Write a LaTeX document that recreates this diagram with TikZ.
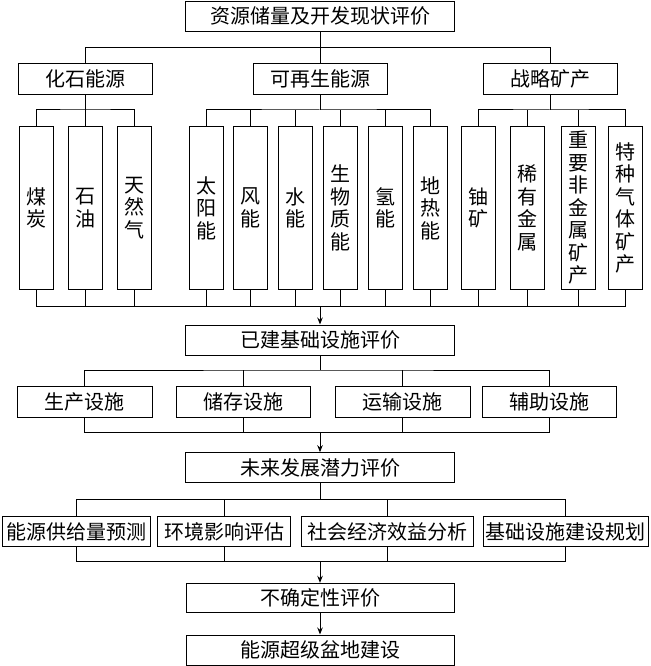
\documentclass[tikz,border=0pt]{standalone}
\usepackage{fontspec}
\newfontfamily\cjk{Noto Sans CJK SC}
\usetikzlibrary{arrows.meta}
\begin{document}
\begin{tikzpicture}[x=1pt,y=-1pt,line width=1pt,
  every node/.style={font=\cjk\fontsize{20}{22.5}\selectfont,inner sep=0pt},
  box/.style={draw,minimum height=30pt,align=center},
  tall/.style={draw,minimum width=34pt,minimum height=162.6pt,align=center},
  arr/.style={-{Stealth[length=7pt,width=5.5pt]}}]
\useasboundingbox[fill=white] (0,0) rectangle (650,666);
% level 1
\node[box,minimum width=269pt] (top) at (320,16.2) {资源储量及开发现状评价};
\node[box,minimum width=134pt,minimum height=31pt] (f) at (85.4,79) {化石能源};
\node[box,minimum width=134pt,minimum height=31pt] (r) at (320,79) {可再生能源};
\node[box,minimum width=134pt,minimum height=31pt] (s) at (550,79) {战略矿产};
% tall boxes
\node[tall] (coal) at (36.3,208) {煤\\炭};
\node[tall] (oil) at (85.3,208) {石\\油};
\node[tall] (ngas) at (134.2,208) {天\\然\\气};
\node[tall] (sun) at (206,208) {太\\阳\\能};
\node[tall] (wind) at (250,208) {风\\能};
\node[tall] (hydro) at (295,208) {水\\能};
\node[tall] (bio) at (340.7,208) {生\\物\\质\\能};
\node[tall] (hyd) at (385.7,208) {氢\\能};
\node[tall] (geo) at (430.7,208) {地\\热\\能};
\node[tall] (ura) at (478.3,208) {铀\\矿};
\node[tall] (rare) at (527.3,208) {稀\\有\\金\\属};
\node[tall] (nonmet) at (578.3,208) {重\\要\\非\\金\\属\\矿\\产};
\node[tall] (sgas) at (625,208) {特\\种\\气\\体\\矿\\产};
% level 2
\node[box,minimum width=269pt] (ib) at (320,340) {已建基础设施评价};
\node[box,minimum width=134.5pt,minimum height=30.6pt] (prod) at (84.75,402) {生产设施};
\node[box,minimum width=134pt,minimum height=30.6pt] (stor) at (243,402) {储存设施};
\node[box,minimum width=135pt,minimum height=30.6pt] (trans) at (402.5,402) {运输设施};
\node[box,minimum width=134pt,minimum height=30.6pt] (aux) at (549.6,402) {辅助设施};
% level 3
\node[box,minimum width=269pt] (fp) at (320,467.7) {未来发展潜力评价};
\node[box,minimum width=148pt] (sup) at (76,531.7) {能源供给量预测};
\node[box,minimum width=133.5pt] (env) at (224.2,531.7) {环境影响评估};
\node[box,minimum width=172pt] (soc) at (387,531.7) {社会经济效益分析};
\node[box,minimum width=165pt] (plan) at (565.5,531.7) {基础设施建设规划};
% level 4
\node[box,minimum width=268pt,minimum height=29.4pt] (unc) at (320,598) {不确定性评价};
\node[box,minimum width=268pt] (fin) at (320,650) {能源超级盆地建设};
% bus levels
\coordinate (y1) at (0,47.7);
\coordinate (y2) at (0,110);
\coordinate (y3) at (0,306);
\coordinate (y4) at (0,370);
\coordinate (y5) at (0,432.7);
\coordinate (y6) at (0,499.3);
\coordinate (y7) at (0,561.7);
% top to categories
\draw (top.south) -- (top.south |- y1);
\draw (f.north) |- (top.south |- y1) -| (s.north);
\draw (r.north) -- (r.north |- y1);
% categories to items
\draw (f.south) -- (f.south |- y2);
\draw (coal.north) |- (f.south |- y2) -| (ngas.north);
\draw (oil.north) -- (oil.north |- y2);
\draw (r.south) -- (r.south |- y2);
\draw (sun.north) |- (r.south |- y2) -| (geo.north);
\foreach \n in {wind,hydro,bio,hyd} \draw (\n.north) -- (\n.north |- y2);
\draw (s.south) -- (s.south |- y2);
\draw (ura.north) |- (s.south |- y2) -| (sgas.north);
\foreach \n in {rare,nonmet} \draw (\n.north) -- (\n.north |- y2);
% items to infrastructure
\foreach \n in {oil,ngas,sun,wind,hydro,bio,hyd,geo,ura,rare,nonmet} \draw (\n.south) -- (\n.south |- y3);
\draw (coal.south) |- (sgas.south |- y3) -- (sgas.south);
\draw[arr] (ib.north |- y3) -- (ib.north);
% infrastructure
\draw (ib.south) -- (ib.south |- y4);
\draw (prod.north) |- (ib.south |- y4) -| (aux.north);
\foreach \n in {stor,trans} \draw (\n.north) -- (\n.north |- y4);
\foreach \n in {stor,trans} \draw (\n.south) -- (\n.south |- y5);
\draw (prod.south) |- (aux.south |- y5) -- (aux.south);
\draw[arr] (fp.north |- y5) -- (fp.north);
% future potential
\draw (fp.south) -- (fp.south |- y6);
\draw (sup.north) |- (fp.south |- y6) -| (plan.north);
\foreach \n in {env,soc} \draw (\n.north) -- (\n.north |- y6);
\foreach \n in {env,soc} \draw (\n.south) -- (\n.south |- y7);
\draw (sup.south) |- (plan.south |- y7) -- (plan.south);
\draw[arr] (unc.north |- y7) -- (unc.north);
\draw[arr] (unc.south) -- (fin.north);
\end{tikzpicture}
\end{document}
